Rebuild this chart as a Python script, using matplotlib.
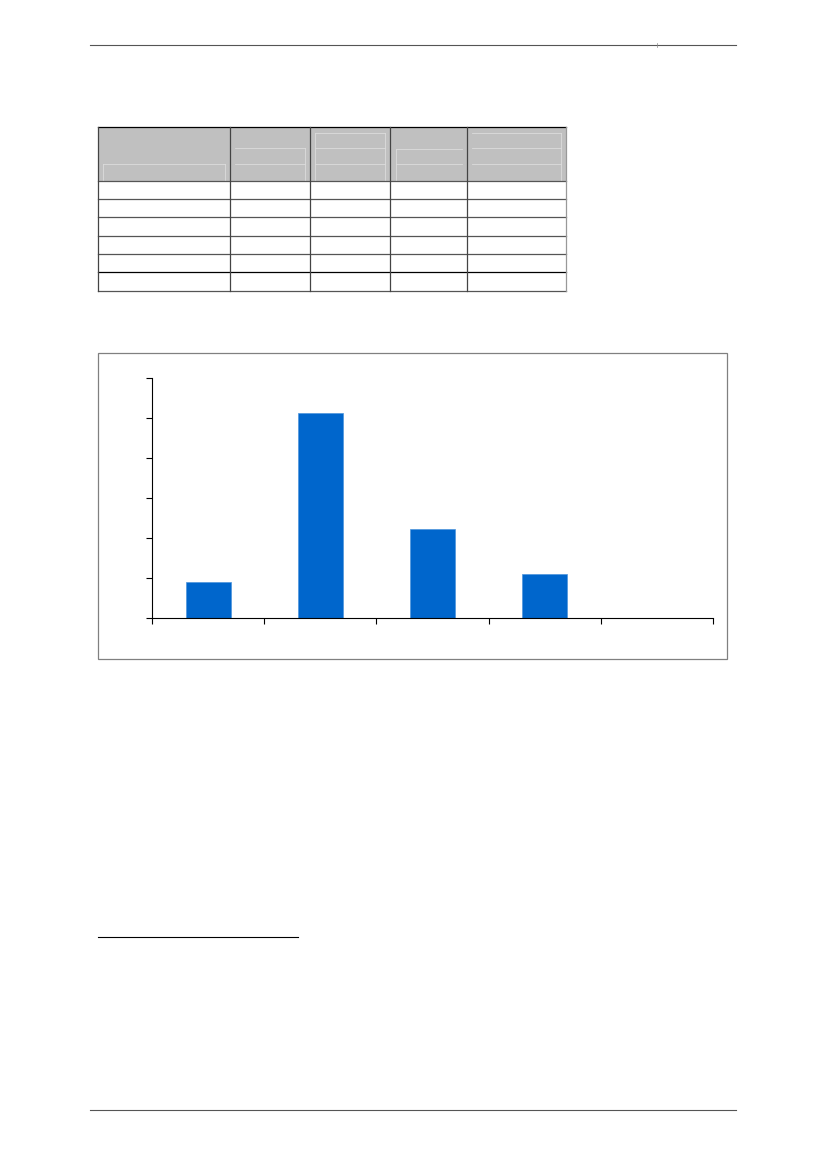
import matplotlib.pyplot as plt
from matplotlib.patches import Rectangle
from matplotlib.lines import Line2D

# bar chart data (no labels shown)
categories = ['A', 'B', 'C', 'D', 'E']
values = [8.9, 51.3, 22.3, 11.1, 0]
y_ticks = [0, 10, 20, 30, 40, 50, 60]

W, H = 826, 1169
fig = plt.figure(figsize=(W / 100, H / 100), dpi=100)

# page overlay in pixel coords
page = fig.add_axes([0, 0, 1, 1])
page.set_xlim(0, W)
page.set_ylim(H, 0)
page.axis('off')

def hline(x0, x1, y, c='#555555', lw=0.8):
    page.add_line(Line2D([x0, x1], [y, y], color=c, lw=lw))

def vline(x, y0, y1, c='#555555', lw=0.8):
    page.add_line(Line2D([x, x], [y0, y1], color=c, lw=lw))

# header / footer rules
hline(90, 736, 45, c='#555555', lw=0.8)
vline(657, 43, 47, c='#888888', lw=0.5)
hline(90, 736, 1110, c='#555555', lw=0.8)
hline(98, 298, 937, c='#000000', lw=0.8)

# table
col_x = [98, 230, 310, 390, 467, 566]
row_y = [127, 181, 199, 217, 236, 254, 272, 291]
page.add_patch(Rectangle((col_x[0], row_y[0]), col_x[-1] - col_x[0], row_y[1] - row_y[0],
                         facecolor='#c0c0c0', edgecolor='none'))
# faint boxes inside the header
light = '#dcdcdc'
hline(103, 225, 164, c=light, lw=0.6); vline(103, 164, 181, c=light, lw=0.6); vline(225, 164, 181, c=light, lw=0.6)
hline(235, 305, 148, c=light, lw=0.6); hline(235, 305, 164, c=light, lw=0.6); vline(305, 148, 181, c=light, lw=0.6)
hline(315, 385, 133, c=light, lw=0.6); hline(315, 385, 148, c=light, lw=0.6); hline(315, 385, 164, c=light, lw=0.6)
vline(315, 133, 181, c=light, lw=0.6); vline(385, 133, 181, c=light, lw=0.6)
hline(396, 462, 149, c=light, lw=0.6); hline(396, 462, 164, c=light, lw=0.6); vline(396, 149, 181, c=light, lw=0.6)
hline(472, 561, 133, c=light, lw=0.6); hline(472, 561, 148, c=light, lw=0.6); hline(472, 561, 164, c=light, lw=0.6)
vline(561, 133, 181, c=light, lw=0.6)

for i, y in enumerate(row_y):
    c = '#000000' if i in (0, 6) else '#555555'
    hline(col_x[0], col_x[-1], y, c=c, lw=0.9)
for i, x in enumerate(col_x):
    c = '#999999' if i == len(col_x) - 1 else '#444444'
    vline(x, row_y[0], row_y[-1], c=c, lw=0.9)

# chart frame
page.add_patch(Rectangle((98, 353), 727 - 98, 659 - 353, facecolor='none',
                         edgecolor='#808080', lw=0.9))

# bar chart
ax = fig.add_axes([152 / W, 1 - 618 / H, (713 - 152) / W, (618 - 378) / H])
x = list(range(len(categories)))
ax.bar(x, values, width=0.4, color='#0066cc', edgecolor='#4d94db', linewidth=0.5)
ax.set_xlim(-0.5, len(categories) - 0.5)
ax.set_ylim(y_ticks[0], y_ticks[-1])
ax.set_yticks(y_ticks)
ax.set_xticks([i - 0.5 for i in range(len(categories) + 1)])
ax.set_xticklabels([])
ax.set_yticklabels([])
ax.tick_params(axis='both', direction='out', length=4, width=0.8, color='black')
ax.spines['top'].set_visible(False)
ax.spines['right'].set_visible(False)
ax.spines['left'].set_linewidth(0.8)
ax.spines['bottom'].set_linewidth(0.8)
ax.patch.set_alpha(0)

fig.savefig('out.png', dpi=100)
